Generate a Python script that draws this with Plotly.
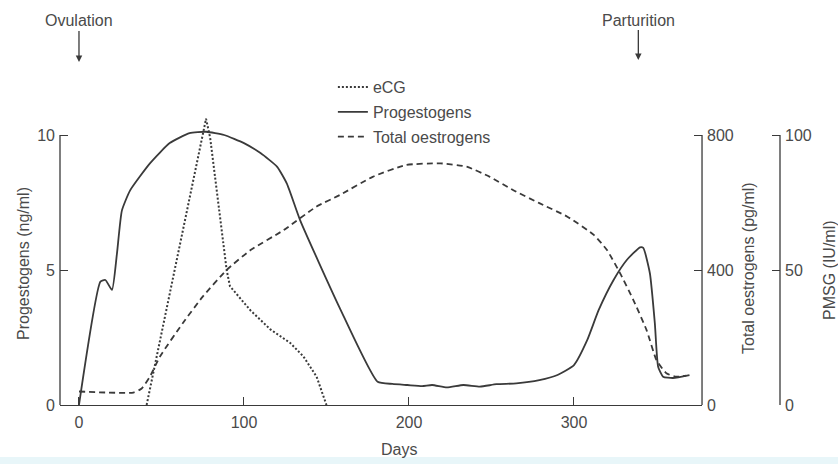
import plotly.graph_objects as go

# ---- data ----
prog_days = [0, 13, 16, 20, 23, 26, 31, 43, 55, 67, 77, 88, 100, 110, 120, 126, 134, 158, 181,
             190, 199, 208, 214, 223, 233, 243, 253, 265, 279, 290, 300, 308, 315, 324, 332, 340,
             342, 346, 349, 351, 354, 360, 370]
prog_vals = [0, 4.57, 4.63, 4.26, 5.6, 7.2, 7.95, 8.95, 9.7, 10.07, 10.12, 10.0, 9.7, 9.33, 8.83,
             8.2, 6.85, 3.6, 0.86, 0.78, 0.74, 0.70, 0.74, 0.65, 0.74, 0.68, 0.77, 0.80, 0.92, 1.11,
             1.48, 2.4, 3.52, 4.63, 5.37, 5.84, 5.82, 4.88, 3.03, 1.42, 1.05, 1.0, 1.11]

oest_days = [0, 33, 38, 43, 49, 63, 75, 89.5, 104, 124, 144, 158, 178, 198, 219, 235, 249, 263,
             279, 296, 312, 320, 328, 336, 344, 350, 356, 362, 368]
oest_vals = [40, 37, 49, 84, 143, 243, 321, 400, 459, 518, 588, 622, 676, 711, 716, 706, 676, 637,
             598, 558, 504, 459, 390, 311, 222, 133, 94, 84, 87]

ecg_days = [41, 77, 79.5, 89.5, 91.5, 104, 116, 128, 136, 144, 150]
ecg_vals = [0, 106, 99, 50, 44, 35, 28, 23, 18, 10.5, 0]

x_ticks = [0, 100, 200, 300]
prog_ticks = [0, 5, 10]
oest_ticks = [0, 400, 800]
pmsg_ticks = [0, 50, 100]

INK = "#3a3a3a"
TXT = "#4a4a4a"
FONT = "Liberation Sans"
FS = 16

fig = go.Figure()
fig.add_trace(go.Scatter(x=ecg_days, y=ecg_vals, name="eCG", yaxis="y3", mode="lines",
                         line=dict(color=INK, width=2, dash="2px,2px"), legendgroup="a"))
fig.add_trace(go.Scatter(x=prog_days, y=prog_vals, name="Progestogens", yaxis="y", mode="lines",
                         line=dict(color=INK, width=1.8, shape="spline", smoothing=0.5),
                         legendgroup="b"))
fig.add_trace(go.Scatter(x=oest_days, y=oest_vals, name="Total oestrogens", yaxis="y2", mode="lines",
                         line=dict(color=INK, width=1.8, dash="6px,4px", shape="spline",
                                   smoothing=0.5), legendgroup="c"))

XD = 0.8917
top_frac = 10.926 / 10.0

axis_common = dict(showgrid=False, zeroline=False, ticks="inside", ticklen=8, tickwidth=1.3,
                   tickcolor=INK, tickfont=dict(family=FONT, size=FS, color=TXT))

fig.update_layout(
    width=838, height=464,
    margin=dict(l=60, r=58, t=110, b=59, autoexpand=False),
    paper_bgcolor="white", plot_bgcolor="white",
    font=dict(family=FONT, size=FS, color=TXT),
    xaxis=dict(domain=[0, XD], range=[-11.5, 377.6], tickvals=x_ticks, showline=True,
               linecolor=INK, linewidth=1.3, ticklabelstandoff=3, **axis_common),
    yaxis=dict(range=[0, 10 * top_frac], tickvals=prog_ticks, showline=False,
               ticklabelstandoff=4, **axis_common),
    yaxis2=dict(range=[0, 800 * top_frac], tickvals=oest_ticks, overlaying="y", side="right",
                anchor="x", showline=False, ticklabelstandoff=4, **axis_common),
    yaxis3=dict(range=[0, 100 * top_frac], tickvals=pmsg_ticks, overlaying="y", side="right",
                anchor="free", position=1.0, showline=False, ticklabelstandoff=4, **axis_common),
    showlegend=True,
    legend=dict(x=0.379, y=1.135, xanchor="left", yanchor="top", bgcolor="rgba(0,0,0,0)",
                tracegroupgap=1, font=dict(family=FONT, size=FS, color=TXT)),
)

# axis lines spanning only the labelled range
fig.add_shape(type="line", xref="paper", yref="y", x0=0, x1=0, y0=0, y1=10,
              line=dict(color=INK, width=1.3))
fig.add_shape(type="line", xref="paper", yref="y2", x0=XD, x1=XD, y0=0, y1=800,
              line=dict(color=INK, width=1.3))
fig.add_shape(type="line", xref="paper", yref="y3", x0=1, x1=1, y0=0, y1=100,
              line=dict(color=INK, width=1.3))

# faint scan band at the bottom
fig.add_shape(type="rect", xref="paper", yref="paper", x0=-0.09, x1=1.09, y0=-0.21, y1=-0.176,
              fillcolor="#e8f6f9", line=dict(width=0), layer="below")

def px_x(p):
    return (p - 60) / 720.0

def px_y(p):
    return (405 - p) / 295.0

title_kw = dict(xref="paper", yref="paper", showarrow=False, xanchor="center", yanchor="middle")
fig.add_annotation(text="Progestogens (ng/ml)", x=px_x(23), y=px_y(264), textangle=-90, **title_kw)
fig.add_annotation(text="Total oestrogens (pg/ml)", x=px_x(748), y=px_y(268), textangle=-90,
                   **title_kw)
fig.add_annotation(text="PMSG (IU/ml)", x=px_x(829), y=px_y(270), textangle=-90, **title_kw)
fig.add_annotation(text="Days", x=px_x(399), y=px_y(449), **title_kw)

fig.add_annotation(text="Ovulation", xref="x", yref="paper", x=0, y=px_y(62), ax=0, ay=-41,
                   showarrow=True, arrowhead=2, arrowsize=1, arrowwidth=1.3, arrowcolor=INK)
fig.add_annotation(text="Parturition", xref="x", yref="paper", x=339, y=px_y(60), ax=0, ay=-40,
                   showarrow=True, arrowhead=2, arrowsize=1, arrowwidth=1.3, arrowcolor=INK)

fig.write_html("out.html", config={"displayModeBar": False},
               post_script="document.body.style.margin='0px';document.body.style.overflow='hidden';")
